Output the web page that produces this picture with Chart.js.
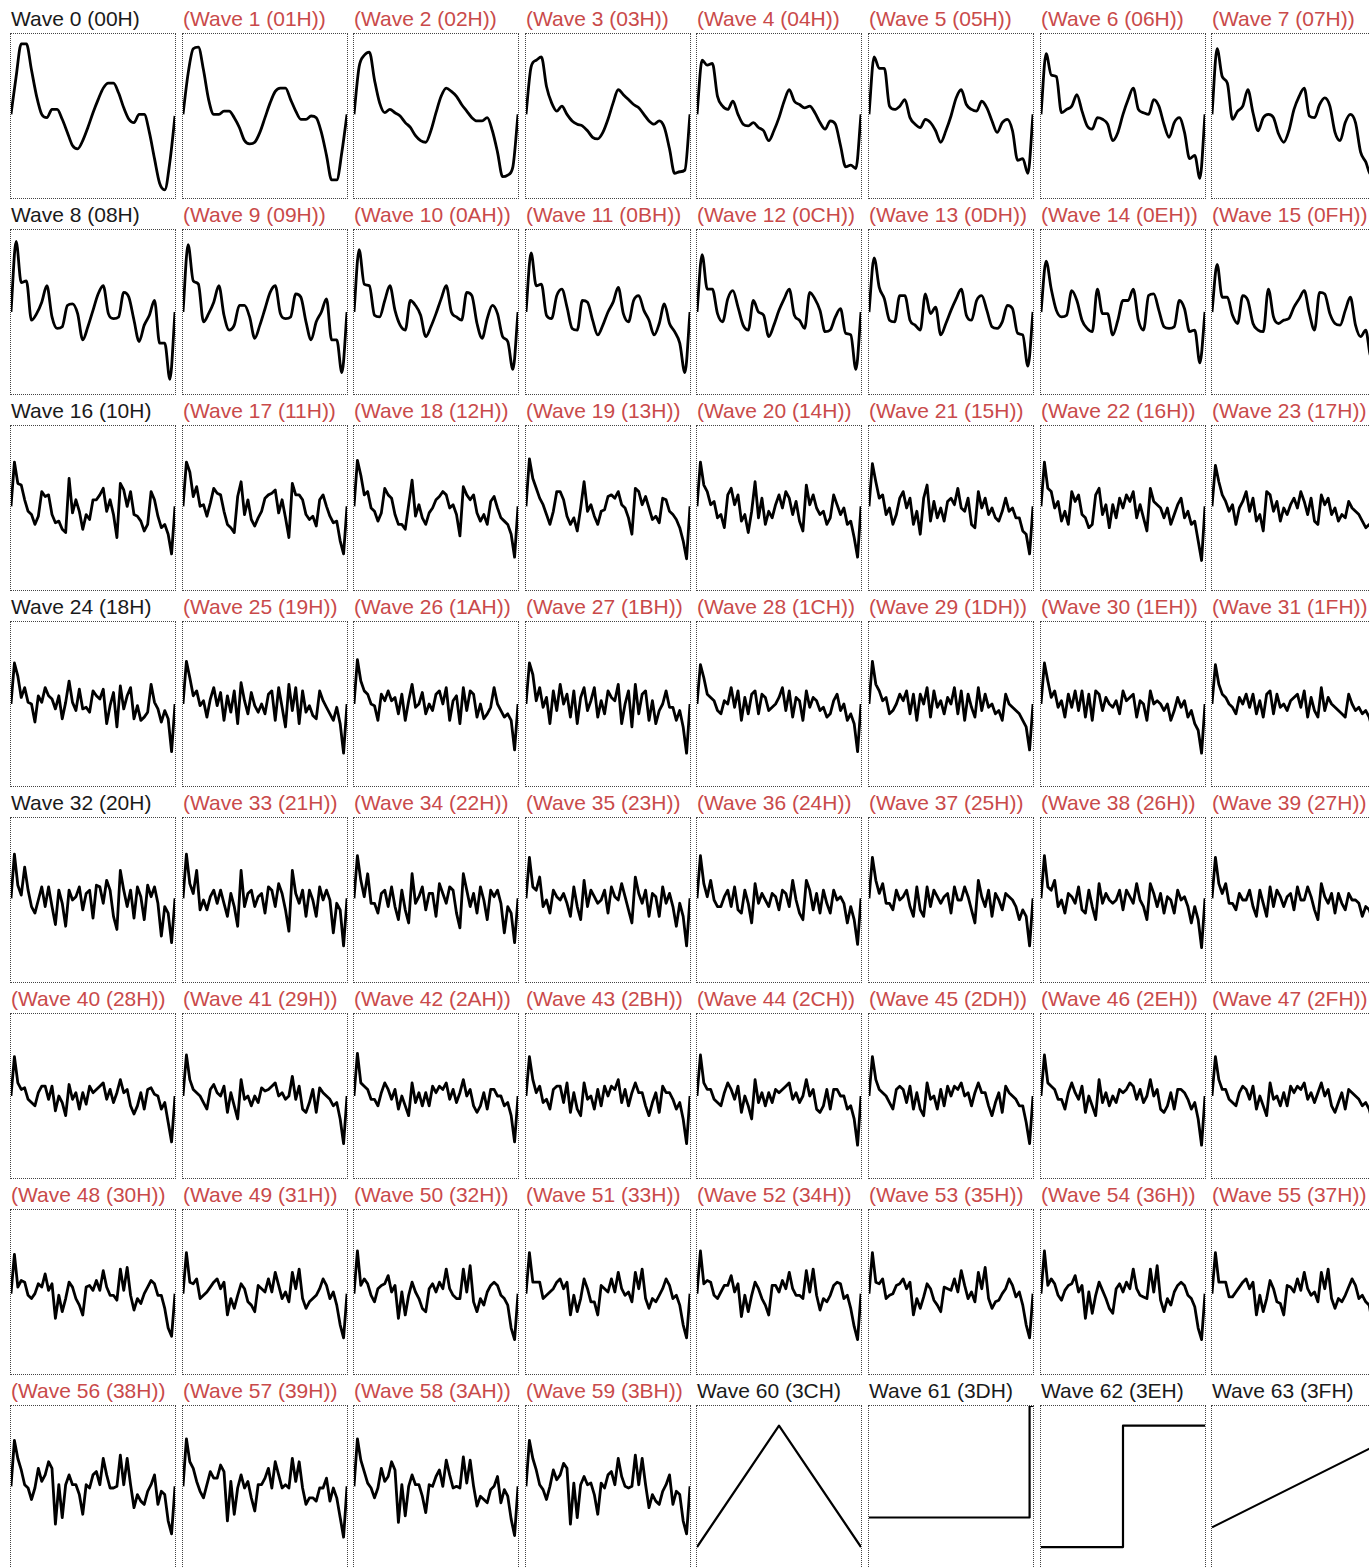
<!DOCTYPE html>
<html lang="en">
<head>
<meta charset="UTF-8">
<title>Waves 0 - 63</title>
<script src="https://cdn.jsdelivr.net/npm/chart.js"></script>
<style>
    html, body {
        margin: 0;
        padding: 0;
        background: #fff;
        overflow: hidden;
        width: 1369px;
        height: 1568px;
    }
    body {
        position: relative;
        font-family: "Liberation Sans", Arial, Helvetica, sans-serif;
    }
    .label {
        position: absolute;
        font-size: 21px;
        line-height: 21px;
        white-space: nowrap;
        color: #1a1a1a;
    }
    .label.alt { color: #c94a4a; }
    .box {
        position: absolute;
        width: 164px;
        height: 164px;
        border: 1px dotted #444;
    }
    .box canvas { display: block; }
</style>
</head>
<body>
<script>
// wave samples, 0 = bottom of the box, 100 = top
const wave0 = [51,74,94,94,78,62,51,49,54,54,48,40,32,30,35,43,52,60,67,70,70,64,55,48,46,51,51,40,24,9,5,22,50];
const wave1 = [51,76,91,92,78,60,51,51,53,53,49,43,35,33,34,40,49,58,65,67,67,60,53,48,48,50,49,40,26,11,11,28,51];
const wave2 = [51,80,87,89,72,58,52,54,52,50,46,43,38,35,34,41,52,62,67,65,62,57,53,49,47,47,49,41,28,13,14,19,51];
const wave3 = [51,80,84,86,68,58,53,56,51,47,45,44,41,37,36,40,48,58,66,63,60,57,55,51,47,45,47,43,30,15,16,17,51];
const wave4 = [51,84,81,82,62,56,54,59,51,45,44,46,43,41,35,41,49,59,66,59,57,55,56,52,46,42,47,45,32,19,20,18,51];
const wave5 = [51,86,79,79,56,54,56,60,49,45,43,48,46,41,34,41,50,61,66,57,54,53,59,55,47,40,46,48,41,23,24,15,51];
const wave6 = [51,88,75,74,52,54,56,63,53,44,42,49,48,45,35,40,51,60,67,54,52,51,60,56,45,37,46,49,40,24,26,12,51];
const wave7 = [51,91,74,70,48,53,56,66,52,41,49,51,49,39,34,41,54,62,67,50,49,57,61,56,40,35,46,51,46,28,22,14,51];

const wave8 = [50,93,68,69,45,49,56,66,47,40,41,54,55,49,33,41,51,61,66,49,46,47,62,59,45,32,42,48,57,31,31,9,50];
const wave9 = [50,91,69,67,44,49,56,66,48,39,42,54,54,47,34,42,52,62,66,49,46,47,61,59,44,33,44,50,58,33,33,13,50];
const wave10 = [50,88,67,66,48,47,57,66,51,42,39,57,54,48,35,41,49,58,66,50,47,45,62,60,43,34,46,54,49,35,32,15,50];
const wave11 = [50,86,66,67,48,46,60,64,53,40,39,57,56,45,36,42,50,56,65,49,44,57,60,51,45,36,43,55,43,38,31,13,50];
const wave12 = [50,85,64,64,49,44,58,63,53,42,39,57,50,48,35,42,51,58,64,48,45,40,62,58,51,38,39,47,52,37,36,15,50];
const wave13 = [50,83,65,58,45,44,60,60,45,42,39,61,49,53,36,43,51,58,64,48,45,57,60,51,41,40,44,54,52,37,36,17,50];
const wave14 = [50,81,64,51,47,48,63,57,45,40,38,64,49,49,36,45,57,57,64,45,39,60,61,51,41,40,41,57,52,38,39,19,50];
const wave15 = [50,79,59,59,48,43,60,57,43,39,38,64,47,43,45,46,53,58,63,49,39,62,61,49,43,42,51,59,42,35,39,23,50];

const wave16 = [51,78,65,64,55,48,46,40,45,60,57,58,46,41,42,37,35,68,47,55,48,37,46,43,55,55,58,62,48,55,46,32,65,61,51,60,46,45,42,36,40,60,55,45,38,40,34,22,51];
const wave17 = [51,78,72,57,63,51,52,45,53,62,59,58,48,40,38,35,57,66,46,55,43,39,44,48,56,58,59,61,47,55,44,32,65,58,58,55,46,43,45,39,55,58,51,45,41,42,30,22,51];
const wave18 = [51,79,70,58,60,50,48,42,47,62,58,56,46,40,40,37,52,67,45,52,44,40,47,50,55,57,60,58,50,52,46,33,63,58,55,58,47,42,46,40,54,57,50,44,42,40,34,20,51];
const wave19 = [51,80,68,62,56,52,46,40,48,60,60,55,45,40,44,36,50,66,48,52,45,40,48,49,57,58,56,60,52,50,44,34,62,60,52,57,50,43,45,41,56,55,48,46,43,38,30,19,51];
const wave20 = [51,78,64,60,52,54,44,46,38,58,62,52,58,42,46,35,48,66,44,56,40,48,44,52,58,50,60,56,46,54,42,36,64,52,58,50,46,48,40,44,58,52,46,50,40,42,32,20,51];
const wave21 = [51,77,66,56,58,46,50,40,46,56,60,50,56,40,48,34,56,64,42,54,44,50,42,54,56,52,62,50,48,56,40,38,60,50,56,46,50,44,42,48,56,48,50,44,44,36,34,22,51];
const wave22 = [51,78,62,60,50,54,42,48,40,60,54,58,46,44,38,40,58,62,46,52,38,52,44,56,50,58,54,60,44,52,44,36,62,54,52,50,44,50,40,46,52,56,44,48,40,42,30,18,51];
const wave23 = [51,76,66,58,54,48,52,40,50,54,60,48,56,42,46,36,60,58,48,54,42,50,46,52,56,50,60,54,46,56,42,40,58,52,56,46,50,42,46,44,54,50,48,46,42,38,40,36,52];

const wave24 = [50,75,67,54,60,51,50,39,55,51,60,55,53,47,55,41,51,64,51,46,59,47,48,45,58,55,53,59,38,49,57,36,61,47,55,60,41,49,40,42,45,62,51,47,39,46,41,21,50];
const wave25 = [50,76,66,55,58,49,52,42,53,60,49,57,40,55,45,58,38,63,52,44,57,49,45,50,44,56,58,40,60,48,36,62,46,60,38,58,45,49,43,41,58,52,48,44,40,48,38,20,50];
const wave26 = [50,77,64,58,56,50,49,40,56,52,58,52,54,44,56,40,52,62,48,50,57,44,50,46,56,58,50,60,40,52,55,38,60,46,58,56,42,50,41,44,48,60,50,46,42,44,40,22,50];
const wave27 = [50,75,68,52,60,48,54,38,58,46,62,50,56,42,58,38,54,60,46,52,60,42,52,44,58,54,52,62,38,50,58,36,62,44,56,58,40,52,38,46,50,58,48,48,40,46,36,20,50];
const wave28 = [50,74,66,56,54,52,46,44,52,50,60,48,58,40,54,44,56,58,44,56,54,46,48,50,54,60,46,58,42,54,52,40,58,48,54,52,46,48,42,44,52,56,46,50,40,44,38,21,50];
const wave29 = [50,76,62,58,52,54,44,46,50,56,52,58,44,56,40,56,50,60,42,58,48,52,44,54,50,60,44,58,40,56,48,42,60,46,56,48,50,44,46,40,56,50,48,46,44,40,36,22,50];
const wave30 = [50,75,64,54,58,48,52,42,56,48,58,46,58,42,56,40,58,56,46,54,50,48,52,44,58,52,54,56,42,52,50,40,58,50,52,50,46,50,40,46,54,48,52,42,46,38,34,20,50];
const wave31 = [50,74,62,56,54,50,48,44,54,50,56,48,56,44,52,42,56,58,44,56,48,50,46,52,54,56,48,58,42,54,46,42,60,46,54,50,48,46,44,42,56,50,46,48,44,46,42,34,50];

const wave32 = [51,78,59,53,70,56,46,42,50,58,46,58,46,35,56,48,34,56,50,52,58,44,54,56,39,59,58,48,62,56,40,32,68,56,46,56,39,58,52,38,59,52,58,48,28,46,42,24,51];
const wave33 = [51,78,60,54,68,44,50,44,52,56,48,56,48,40,54,46,34,68,46,54,56,46,52,54,42,58,56,46,60,54,44,31,68,54,48,56,40,56,50,40,58,50,56,50,30,48,44,22,51];
const wave34 = [51,77,62,52,66,48,48,42,54,56,46,58,46,38,56,44,36,66,48,52,58,44,54,54,40,60,54,48,58,56,42,33,66,56,46,54,42,58,50,38,56,52,56,48,30,46,42,24,51];
const wave35 = [51,76,58,56,64,46,50,42,56,52,50,54,48,40,58,46,38,62,46,56,52,48,50,56,42,58,52,50,60,52,44,36,64,54,48,56,40,54,52,40,58,48,54,46,34,48,40,22,51];
const wave36 = [51,77,60,52,62,50,46,46,52,56,46,58,44,42,56,48,36,60,48,54,50,46,54,52,44,56,54,46,62,50,42,38,62,56,44,54,42,56,48,42,56,50,52,48,36,46,38,23,51];
const wave37 = [51,76,62,54,60,48,48,44,56,50,52,56,46,40,58,44,40,58,46,56,52,48,52,54,42,58,50,50,58,52,44,36,62,52,46,56,40,54,50,44,54,52,50,46,38,44,40,22,51];
const wave38 = [51,77,58,56,62,46,50,42,54,52,48,58,44,42,56,46,38,60,48,54,50,48,50,56,44,56,52,48,60,50,46,38,60,54,46,54,42,52,50,42,56,50,52,46,36,46,38,21,51];
const wave39 = [51,76,60,54,60,48,48,44,54,50,50,56,46,40,56,48,40,58,46,56,52,46,52,54,44,58,50,50,58,52,44,38,60,52,48,54,42,54,48,44,54,50,50,48,40,46,44,38,51];

const wave40 = [50,74,58,54,55,48,46,44,52,56,56,48,56,41,50,46,38,57,48,52,42,52,45,56,52,54,56,58,48,54,46,52,60,52,54,44,39,44,52,42,54,55,51,50,42,46,34,22,50];
const wave41 = [50,75,60,54,52,50,46,42,54,57,52,50,56,40,52,44,36,60,48,50,44,50,46,55,53,54,56,58,50,52,48,50,62,48,56,42,40,46,54,40,55,52,50,48,44,46,36,21,50];
const wave42 = [50,76,58,56,54,48,48,44,52,58,54,48,54,42,50,44,38,58,46,52,44,52,44,56,52,56,54,58,48,54,46,52,60,50,54,44,40,44,52,42,54,54,50,50,44,46,38,22,50];
const wave43 = [50,74,60,52,56,46,48,42,54,56,56,46,58,40,52,42,38,58,48,50,42,54,44,56,50,56,54,60,46,54,44,52,58,52,52,44,38,46,52,40,56,52,52,48,42,46,36,21,50];
const wave44 = [50,75,58,54,54,48,46,44,52,58,54,48,56,40,50,44,36,60,46,52,44,52,46,54,52,54,56,58,48,52,46,50,60,50,54,42,40,44,54,42,54,54,50,50,42,44,36,20,50];
const wave45 = [50,74,60,54,52,50,46,42,54,56,54,46,56,42,52,42,38,58,48,50,42,54,44,56,50,56,54,58,50,52,44,52,58,52,52,44,38,46,52,40,56,52,50,48,44,44,34,21,50];
const wave46 = [50,75,58,56,54,48,48,42,52,58,52,48,56,40,50,44,38,60,46,52,44,50,46,54,52,54,58,56,48,54,46,50,60,50,54,42,40,44,52,42,54,54,52,48,42,46,36,20,50];
const wave47 = [50,74,60,54,54,48,46,44,52,56,54,48,56,42,50,44,38,58,48,50,44,52,44,56,52,56,54,58,48,52,46,52,58,50,54,44,40,46,52,42,54,52,50,48,44,46,42,34,50];

const wave48 = [49,73,53,57,56,48,46,49,55,53,61,51,55,34,48,38,46,56,53,46,42,36,53,54,51,57,51,63,53,48,48,45,64,51,65,48,39,46,43,49,53,57,55,48,48,40,28,23,49];
const wave49 = [49,74,56,55,58,46,48,50,53,56,58,52,56,36,46,40,48,55,52,44,42,38,54,52,50,58,50,62,54,46,50,44,62,52,64,46,40,44,46,48,52,58,54,46,50,42,30,22,49];
const wave50 = [49,75,54,58,55,48,44,52,54,55,60,50,54,34,50,36,48,56,50,46,40,38,52,55,50,56,52,64,52,48,46,46,64,50,66,44,38,46,42,50,54,56,54,48,46,42,28,21,49];
const wave51 = [49,74,56,56,56,46,48,50,52,56,58,52,56,36,48,38,46,58,52,44,44,36,54,52,50,58,50,62,52,48,50,44,62,52,64,46,40,46,44,48,52,58,54,46,48,42,30,22,49];
const wave52 = [49,75,55,57,56,48,46,50,54,54,60,50,55,35,48,38,48,56,52,46,42,36,54,54,50,57,52,62,52,48,48,46,63,50,64,48,39,46,44,48,54,56,55,46,48,40,29,21,49];
const wave53 = [49,74,56,55,58,46,48,49,54,55,58,52,56,36,46,40,47,55,52,45,42,38,53,52,51,58,50,63,54,46,50,44,62,52,65,46,40,44,45,49,52,58,54,47,50,42,30,22,49];
const wave54 = [49,75,54,58,55,48,45,51,54,55,60,50,54,34,50,37,48,56,51,46,40,37,52,55,50,56,52,64,52,48,47,46,64,50,66,45,38,46,42,50,54,56,54,48,46,41,28,21,49];
const wave55 = [49,74,56,56,56,47,47,50,53,56,58,52,56,36,48,38,46,57,52,44,43,36,54,53,50,58,51,62,52,48,50,44,62,52,64,46,40,46,44,48,53,58,54,46,48,44,42,30,49];

const wave56 = [51,79,68,61,52,50,43,50,62,54,58,66,62,28,52,32,52,58,52,52,46,34,52,50,58,60,52,68,58,50,50,51,70,52,68,52,38,46,42,40,48,52,58,40,48,46,30,22,51];
const wave57 = [51,80,66,62,54,48,44,52,60,56,56,64,60,30,54,34,50,58,50,54,44,36,52,52,56,62,50,66,58,50,52,50,68,54,66,50,40,44,44,42,50,50,56,42,50,44,32,20,51];
const wave58 = [51,80,67,60,53,50,44,50,62,54,57,66,61,29,52,33,51,58,52,52,45,35,52,51,57,61,51,67,58,50,51,50,69,53,67,51,39,45,43,41,49,51,57,41,49,45,31,21,51];
const wave59 = [51,79,68,61,52,49,43,51,61,55,58,65,62,28,53,32,52,57,52,53,46,34,53,50,58,60,52,68,57,51,50,51,70,52,68,52,38,46,42,40,48,52,58,40,48,46,30,22,51];

const wave60 = [14,88,14];
const wave61 = [32,32,32,32,32,32,32,32,32,32,32,32,32,32,32,32,32,32,32,32,32,32,32,32,32,32,32,32,32,32,32,32,32,32,32,32,32,32,32,32,32,32,32,32,32,32,32,100,100];
const wave62 = [14,14,14,14,14,14,14,14,14,14,14,14,14,14,14,14,88,88,88,88,88,88,88,88,88,88,88,88,88,88,88,88,88];
const wave63 = [26,76];

const waves = [
    wave0, wave1, wave2, wave3, wave4, wave5, wave6, wave7,
    wave8, wave9, wave10, wave11, wave12, wave13, wave14, wave15,
    wave16, wave17, wave18, wave19, wave20, wave21, wave22, wave23,
    wave24, wave25, wave26, wave27, wave28, wave29, wave30, wave31,
    wave32, wave33, wave34, wave35, wave36, wave37, wave38, wave39,
    wave40, wave41, wave42, wave43, wave44, wave45, wave46, wave47,
    wave48, wave49, wave50, wave51, wave52, wave53, wave54, wave55,
    wave56, wave57, wave58, wave59, wave60, wave61, wave62, wave63
];

// labels drawn without the extra brackets
const plainWaves = [0, 8, 16, 24, 32, 60, 61, 62, 63];
const steppedWaves = [61, 62];

const COLS = 8;
const PITCH_X = 171.6;
const PITCH_Y = 196;

waves.forEach((vals, i) => {
    const col = i % COLS;
    const row = Math.floor(i / COLS);
    const left = Math.round(10 + col * PITCH_X);
    const top = 33 + row * PITCH_Y;

    const hex = i.toString(16).toUpperCase().padStart(2, '0');
    const plain = plainWaves.includes(i);
    const label = document.createElement('div');
    label.className = plain ? 'label' : 'label alt';
    label.textContent = plain ? `Wave ${i} (${hex}H)` : `(Wave ${i} (${hex}H))`;
    label.style.left = (left + 1) + 'px';
    label.style.top = (top - 25) + 'px';
    document.body.appendChild(label);

    const box = document.createElement('div');
    box.className = 'box';
    box.style.left = left + 'px';
    box.style.top = top + 'px';
    const canvas = document.createElement('canvas');
    canvas.width = 164;
    canvas.height = 164;
    box.appendChild(canvas);
    document.body.appendChild(box);

    new Chart(canvas, {
        type: 'line',
        data: {
            labels: vals.map((_, k) => k),
            datasets: [{
                data: vals,
                borderColor: '#000',
                borderWidth: i >= 60 ? 2.2 : 2.8,
                borderJoinStyle: 'round',
                pointRadius: 0,
                fill: false,
                clip: false,
                tension: 0,
                cubicInterpolationMode: i < 16 ? 'monotone' : 'default',
                stepped: steppedWaves.includes(i)
            }]
        },
        options: {
            responsive: false,
            animation: false,
            events: [],
            layout: { padding: 0 },
            plugins: { legend: { display: false }, tooltip: { enabled: false } },
            scales: {
                x: { display: false, offset: false },
                y: { display: false, min: 0, max: 100 }
            }
        }
    });
});
</script>
</body>
</html>
